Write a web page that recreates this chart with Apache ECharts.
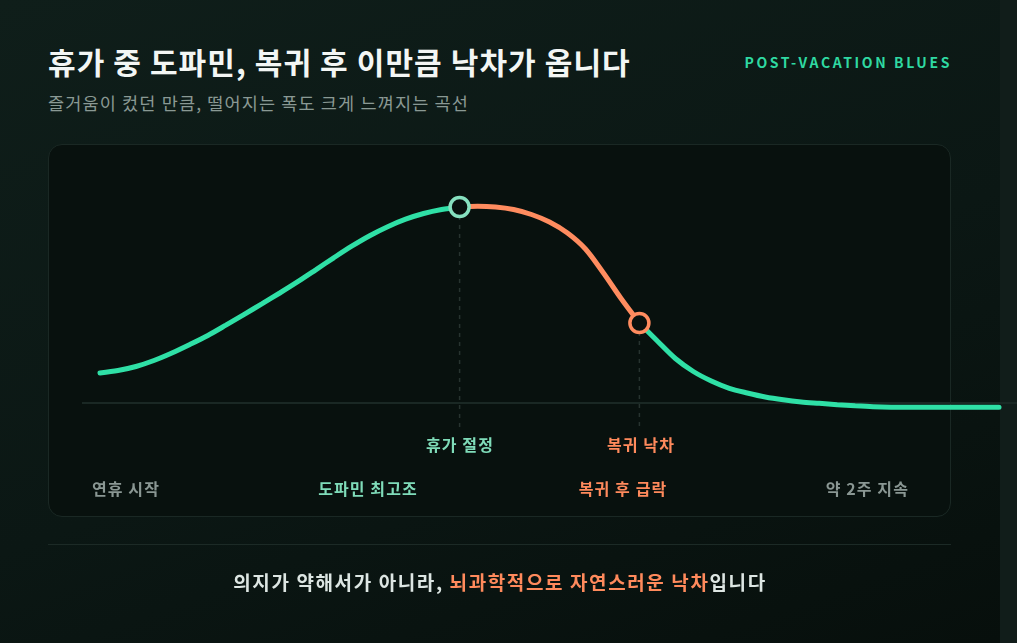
<!DOCTYPE html>
<html><head><meta charset="utf-8">
<script src="https://cdn.jsdelivr.net/npm/echarts@6/dist/echarts.min.js"></script>
<style>
html,body{margin:0;padding:0;width:1017px;height:643px;overflow:hidden;background:#111d1a;font-family:"Noto Sans CJK KR","Noto Sans",sans-serif;}
#page{position:absolute;left:0;top:0;width:1000px;height:643px;background:linear-gradient(160deg,#0f1e1a 0%,#0b1714 55%,#070f0c 100%);}
.t{position:absolute;white-space:nowrap;line-height:1;}
#card{position:absolute;left:48px;top:144px;width:901px;height:371px;border:1px solid #1a2824;border-radius:14px;background:#08110e;}
#divider{position:absolute;left:48px;top:544px;width:903px;height:1px;background:#1c2a26;}
#chart{position:absolute;left:0;top:0;width:1017px;height:643px;}
.lb{font-size:16px;font-weight:700;letter-spacing:1.1px;}
</style></head>
<body>
<div id="page"></div>
<div id="card"></div>
<div id="divider"></div>
<div class="t" id="title" style="left:48px;top:46px;font-size:30px;font-weight:700;color:#f3f6f4;letter-spacing:1.1px;">휴가 중 도파민, 복귀 후 이만큼 낙차가 옵니다</div>
<div class="t" id="sub" style="left:48px;top:94px;font-size:17.5px;color:#8a9994;letter-spacing:1.15px;">즐거움이 컸던 만큼, 떨어지는 폭도 크게 느껴지는 곡선</div>
<div class="t" id="tag" style="right:65px;top:55px;font-size:14px;font-weight:700;color:#2fd9a2;letter-spacing:2.6px;">POST-VACATION BLUES</div>
<div id="chart"></div>
<div class="t lb" style="left:460px;top:436px;transform:translateX(-50%);color:#7fdcb9;">휴가 절정</div>
<div class="t lb" style="left:641px;top:436px;transform:translateX(-50%);color:#ff8a5c;">복귀 낙차</div>
<div class="t lb" style="left:92px;top:480px;color:#8a9793;">연휴 시작</div>
<div class="t lb" style="left:368px;top:480px;transform:translateX(-50%);color:#7fdcb9;">도파민 최고조</div>
<div class="t lb" style="left:623px;top:480px;transform:translateX(-50%);color:#ff8a5c;">복귀 후 급락</div>
<div class="t lb" style="right:108px;top:480px;color:#8a9793;">약 2주 지속</div>
<div class="t" id="foot" style="left:500px;top:572px;transform:translateX(-50%);font-size:19px;font-weight:700;color:#dde6e3;letter-spacing:1.6px;">의지가 약해서가 아니라, <span style="color:#ff8a5c">뇌과학적으로 자연스러운 낙차</span>입니다</div>
<script>
// curve data: x positions and level readings
const riseX = [0, 2, 4, 6, 8, 10, 12, 14, 16, 18, 20, 22, 24, 26, 28, 30, 32, 34, 36, 38, 40];
const riseY = [30, 32.5, 36.5, 42.5, 50, 58.5, 67.5, 77.8, 88.4, 99.1, 110, 121.3, 133.2, 145.2, 156.8, 167.3, 176.3, 183.8, 189.5, 193.5, 196];
const dropX = [40, 42, 44, 46, 48, 50, 52, 54, 56, 58, 60];
const dropY = [196, 196.8, 196, 193.5, 188.5, 181, 170, 154, 130, 104, 80];
const tailX = [60, 62, 64, 66, 68, 70, 72, 74, 76, 78, 80, 82, 84, 86, 88, 90, 92, 94, 96, 98, 100];
const tailY = [80, 62, 44.5, 31.5, 22, 14.7, 10, 6, 3.2, 1.1, -0.3, -1.7, -2.8, -3.7, -4.2, -4.3, -4.3, -4.3, -4.3, -4.3, -4.3];
const peakPoint = [40, 196];
const returnPoint = [60, 80];
const guideBottom = -27;

const zip = (xs, ys) => xs.map((x, i) => [x, ys[i]]);
const GREEN = '#2fe0a6', ORANGE = '#ff8c5f', MINT = '#86e0bf', CARD = '#08110e';

const chart = echarts.init(document.getElementById('chart'), null, {renderer: 'canvas'});
chart.setOption({
  backgroundColor: 'transparent',
  animation: false,
  grid: {left: 82, right: 0, top: 183, bottom: 210},
  xAxis: {type: 'value', min: -2, max: 102, axisLine: {show: false}, axisTick: {show: false},
          axisLabel: {show: false}, splitLine: {show: false}},
  yAxis: {type: 'value', min: -30, max: 220, axisLine: {show: false}, axisTick: {show: false},
          axisLabel: {show: false}, splitLine: {show: false}},
  series: [
    {type: 'line', data: [[-2, 0], [102, 0]], symbol: 'none', silent: true,
     lineStyle: {color: '#1a2824', width: 2}, z: 1},
    {type: 'line', data: [[peakPoint[0], peakPoint[1]], [peakPoint[0], guideBottom]], symbol: 'none',
     lineStyle: {color: '#27332f', width: 1.5, type: [4, 5]}, z: 2},
    {type: 'line', data: [[returnPoint[0], returnPoint[1]], [returnPoint[0], guideBottom]], symbol: 'none',
     lineStyle: {color: '#27332f', width: 1.5, type: [4, 5]}, z: 2},
    {type: 'line', data: zip(riseX, riseY), smooth: 0.3, symbol: 'none',
     lineStyle: {color: GREEN, width: 5, cap: 'round'}, z: 3},
    {type: 'line', data: zip(dropX, dropY), smooth: 0.3, symbol: 'none',
     lineStyle: {color: ORANGE, width: 5, cap: 'round'}, z: 3},
    {type: 'line', data: zip(tailX, tailY), smooth: 0.3, symbol: 'none',
     lineStyle: {color: GREEN, width: 5, cap: 'round'}, z: 3},
    {type: 'scatter', symbol: 'circle', symbolSize: 19, z: 5,
     data: [
       {value: peakPoint, itemStyle: {color: CARD, borderColor: MINT, borderWidth: 3.5, opacity: 1}},
       {value: returnPoint, itemStyle: {color: CARD, borderColor: ORANGE, borderWidth: 3.5, opacity: 1}}
     ]}
  ]
});
</script>
</body></html>
